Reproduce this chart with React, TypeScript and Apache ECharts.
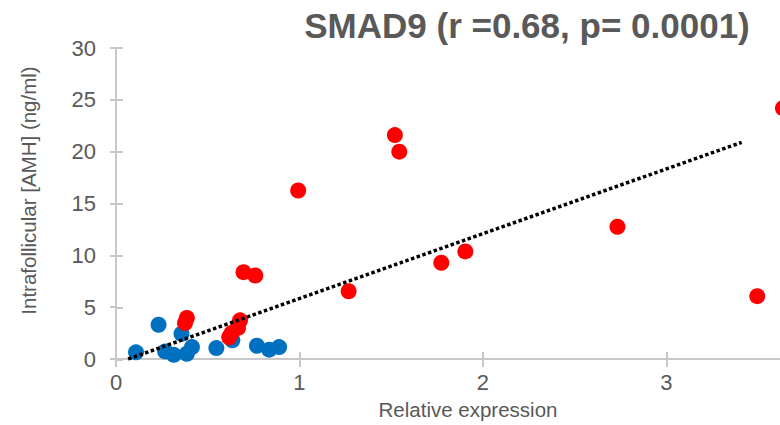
import React, { useEffect, useRef } from "react";
import * as echarts from "echarts";

const titleText = "SMAD9 (r =0.68, p= 0.0001)";
const xAxisName = "Relative expression";
const yAxisName = "Intrafollicular [AMH] (ng/ml)";

const xTicks = [0, 1, 2, 3];
const yTicks = [0, 5, 10, 15, 20, 25, 30];

const blueX = [0.109, 0.232, 0.268, 0.315, 0.357, 0.386, 0.414, 0.547, 0.634, 0.768, 0.835, 0.889];
const blueY = [0.64, 3.3, 0.73, 0.4, 2.44, 0.51, 1.15, 1.05, 1.8, 1.28, 0.9, 1.15];

const redX = [0.376, 0.386, 0.617, 0.63, 0.665, 0.676, 0.695, 0.759, 0.993, 1.268, 1.52, 1.544, 1.773, 1.904, 2.733, 3.495, 3.635];
const redY = [3.47, 3.95, 2.1, 2.5, 3.0, 3.73, 8.38, 8.05, 16.25, 6.54, 21.6, 20.0, 9.28, 10.38, 12.76, 6.06, 24.2];

const trendX = [0.066, 3.41];
const trendY = [0, 20.9];

const FONT = "'Liberation Sans', Arial, sans-serif";
const TEXT = "#595959";
const AXIS = "#C8C8C8";

const X_MAX = 3.619;

function pairs(xs: number[], ys: number[]) {
  return xs.map((x, i) => [x, ys[i]]);
}

export default function App() {
  const ref = useRef<HTMLDivElement>(null);
  useEffect(() => {
    if (!ref.current) return;
    const chart = echarts.init(ref.current, undefined, { renderer: "svg" });
    const grid = { left: 116, right: 0, top: 48, bottom: 65 };
    chart.setOption({
      animation: false,
      title: {
        text: titleText,
        left: 522,
        top: 3,
        textAlign: "center",
        textStyle: { fontSize: 35, fontWeight: "bold", color: TEXT, fontFamily: FONT },
      },
      grid: [grid, { ...grid }],
      xAxis: [
        {
          type: "value",
          gridIndex: 0,
          min: 0,
          max: X_MAX,
          interval: 1,
          name: xAxisName,
          nameLocation: "middle",
          nameGap: 40,
          nameTextStyle: { fontSize: 20.5, color: TEXT, fontFamily: FONT, padding: [0, 0, 0, 40] },
          axisLine: { show: true, lineStyle: { color: AXIS, width: 2 } },
          axisTick: { show: true, length: 8, customValues: xTicks, lineStyle: { color: AXIS, width: 2 } },
          axisLabel: { customValues: xTicks, fontSize: 22, color: TEXT, fontFamily: FONT, margin: 12 },
          splitLine: { show: false },
        },
        {
          type: "value",
          gridIndex: 1,
          min: 0,
          max: X_MAX,
          interval: 1,
          axisLine: { show: false },
          axisTick: { show: true, inside: true, length: 8, customValues: xTicks, lineStyle: { color: AXIS, width: 2 } },
          axisLabel: { show: false },
          splitLine: { show: false },
        },
      ],
      yAxis: [
        {
          type: "value",
          gridIndex: 0,
          min: 0,
          max: 30,
          interval: 5,
          name: yAxisName,
          nameLocation: "middle",
          nameGap: 77,
          nameTextStyle: { fontSize: 20.5, color: TEXT, fontFamily: FONT, padding: [0, 0, 0, 26] },
          axisLine: { show: true, lineStyle: { color: AXIS, width: 2 } },
          axisTick: { show: true, length: 6, lineStyle: { color: AXIS, width: 2 } },
          axisLabel: { fontSize: 22, color: TEXT, fontFamily: FONT, margin: 20 },
          splitLine: { show: false },
        },
        {
          type: "value",
          gridIndex: 1,
          min: 0,
          max: 30,
          interval: 5,
          axisLine: { show: false },
          axisTick: { show: true, inside: true, length: 7, lineStyle: { color: AXIS, width: 2 } },
          axisLabel: { show: false },
          splitLine: { show: false },
        },
      ],
      series: [
        {
          type: "scatter",
          xAxisIndex: 0,
          yAxisIndex: 0,
          data: pairs(blueX, blueY),
          symbol: "circle",
          symbolSize: 16,
          clip: false,
          itemStyle: { color: "#0070C0", opacity: 1 },
          z: 2,
        },
        {
          type: "scatter",
          xAxisIndex: 0,
          yAxisIndex: 0,
          data: pairs(redX, redY),
          symbol: "circle",
          symbolSize: 16,
          clip: false,
          itemStyle: { color: "#FF0000", opacity: 1 },
          z: 3,
        },
        {
          type: "line",
          xAxisIndex: 0,
          yAxisIndex: 0,
          data: pairs(trendX, trendY),
          showSymbol: false,
          symbol: "none",
          lineStyle: { color: "#000000", width: 3.5, type: [3.5, 2.5], cap: "butt" },
          z: 4,
        },
      ],
    });
    return () => chart.dispose();
  }, []);
  return (
    <div
      ref={ref}
      style={{ position: "absolute", left: 0, top: 0, width: 780, height: 425, background: "#ffffff" }}
    />
  );
}
